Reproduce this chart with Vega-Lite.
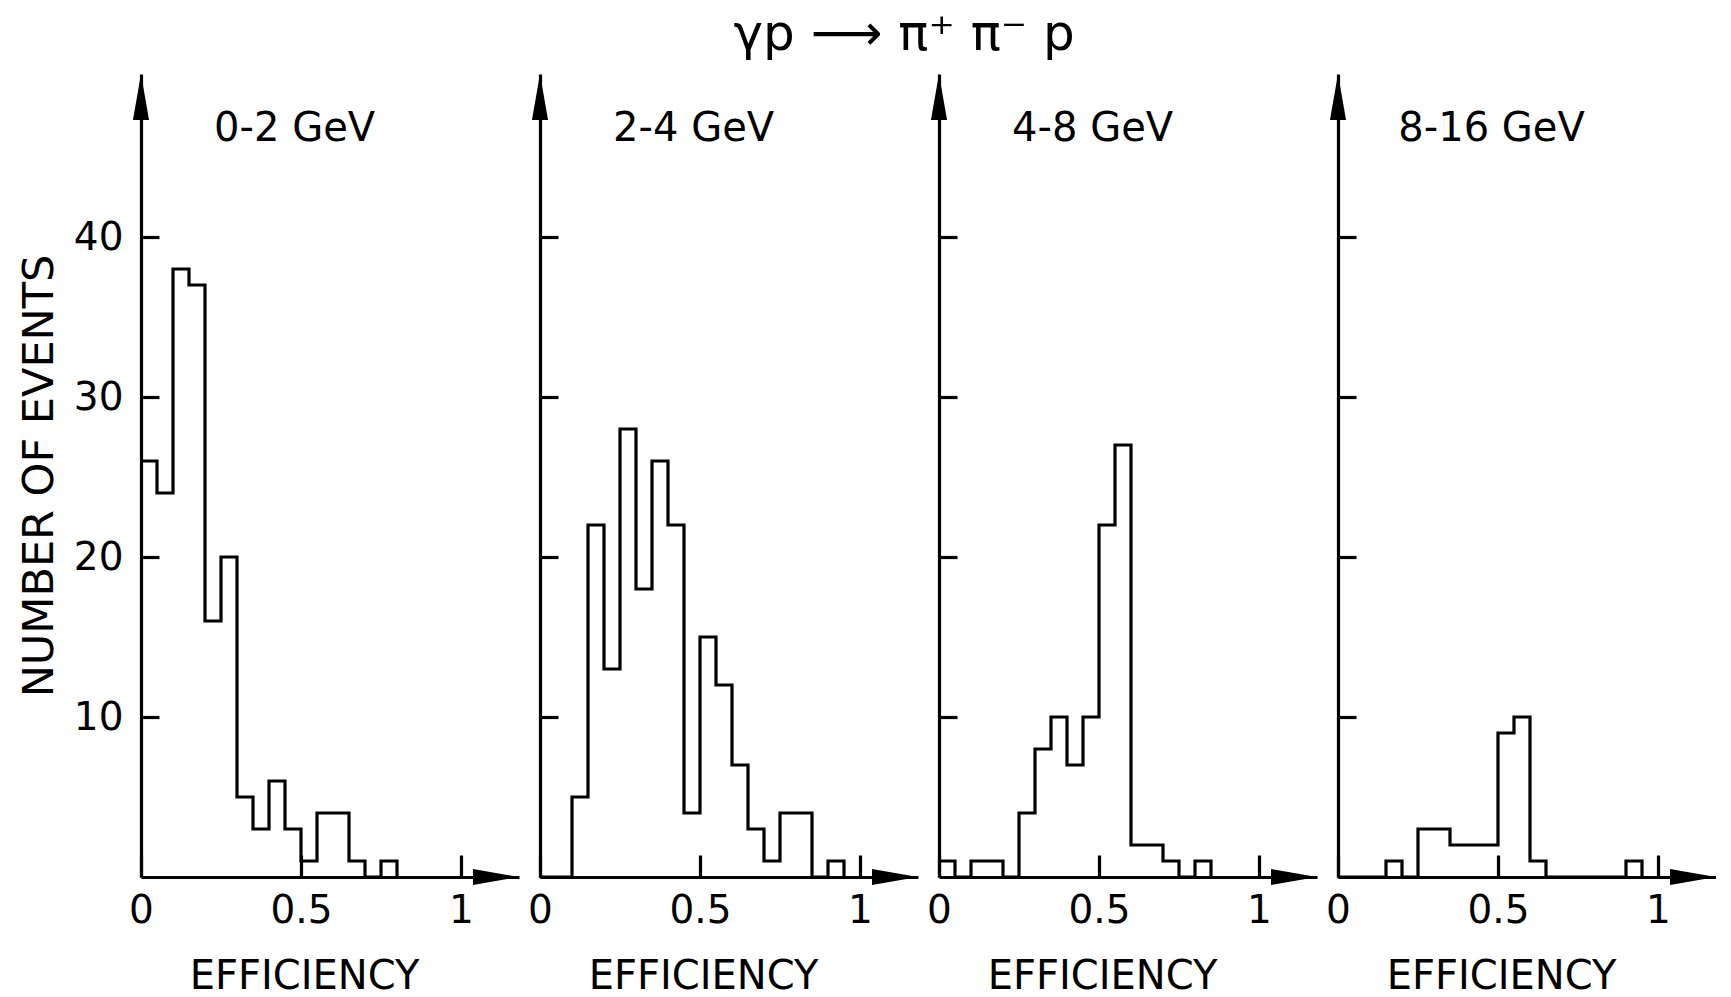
{
  "$schema": "https://vega.github.io/schema/vega-lite/v6.json",
  "padding": {"left": 18, "top": 10, "right": 0, "bottom": 0},
  "background": "white",
  "datasets": {
    "hist": [
      {"panel": "0-2 GeV", "eff": 0.00, "n": 26},
      {"panel": "0-2 GeV", "eff": 0.05, "n": 24},
      {"panel": "0-2 GeV", "eff": 0.10, "n": 38},
      {"panel": "0-2 GeV", "eff": 0.15, "n": 37},
      {"panel": "0-2 GeV", "eff": 0.20, "n": 16},
      {"panel": "0-2 GeV", "eff": 0.25, "n": 20},
      {"panel": "0-2 GeV", "eff": 0.30, "n": 5},
      {"panel": "0-2 GeV", "eff": 0.35, "n": 3},
      {"panel": "0-2 GeV", "eff": 0.40, "n": 6},
      {"panel": "0-2 GeV", "eff": 0.45, "n": 3},
      {"panel": "0-2 GeV", "eff": 0.50, "n": 1},
      {"panel": "0-2 GeV", "eff": 0.55, "n": 4},
      {"panel": "0-2 GeV", "eff": 0.60, "n": 4},
      {"panel": "0-2 GeV", "eff": 0.65, "n": 1},
      {"panel": "0-2 GeV", "eff": 0.70, "n": 0},
      {"panel": "0-2 GeV", "eff": 0.75, "n": 1},
      {"panel": "0-2 GeV", "eff": 0.80, "n": 0},

      {"panel": "2-4 GeV", "eff": 0.00, "n": 0},
      {"panel": "2-4 GeV", "eff": 0.05, "n": 0},
      {"panel": "2-4 GeV", "eff": 0.10, "n": 5},
      {"panel": "2-4 GeV", "eff": 0.15, "n": 22},
      {"panel": "2-4 GeV", "eff": 0.20, "n": 13},
      {"panel": "2-4 GeV", "eff": 0.25, "n": 28},
      {"panel": "2-4 GeV", "eff": 0.30, "n": 18},
      {"panel": "2-4 GeV", "eff": 0.35, "n": 26},
      {"panel": "2-4 GeV", "eff": 0.40, "n": 22},
      {"panel": "2-4 GeV", "eff": 0.45, "n": 4},
      {"panel": "2-4 GeV", "eff": 0.50, "n": 15},
      {"panel": "2-4 GeV", "eff": 0.55, "n": 12},
      {"panel": "2-4 GeV", "eff": 0.60, "n": 7},
      {"panel": "2-4 GeV", "eff": 0.65, "n": 3},
      {"panel": "2-4 GeV", "eff": 0.70, "n": 1},
      {"panel": "2-4 GeV", "eff": 0.75, "n": 4},
      {"panel": "2-4 GeV", "eff": 0.80, "n": 4},
      {"panel": "2-4 GeV", "eff": 0.85, "n": 0},
      {"panel": "2-4 GeV", "eff": 0.90, "n": 1},
      {"panel": "2-4 GeV", "eff": 0.95, "n": 0},

      {"panel": "4-8 GeV", "eff": 0.00, "n": 1},
      {"panel": "4-8 GeV", "eff": 0.05, "n": 0},
      {"panel": "4-8 GeV", "eff": 0.10, "n": 1},
      {"panel": "4-8 GeV", "eff": 0.15, "n": 1},
      {"panel": "4-8 GeV", "eff": 0.20, "n": 0},
      {"panel": "4-8 GeV", "eff": 0.25, "n": 4},
      {"panel": "4-8 GeV", "eff": 0.30, "n": 8},
      {"panel": "4-8 GeV", "eff": 0.35, "n": 10},
      {"panel": "4-8 GeV", "eff": 0.40, "n": 7},
      {"panel": "4-8 GeV", "eff": 0.45, "n": 10},
      {"panel": "4-8 GeV", "eff": 0.50, "n": 22},
      {"panel": "4-8 GeV", "eff": 0.55, "n": 27},
      {"panel": "4-8 GeV", "eff": 0.60, "n": 2},
      {"panel": "4-8 GeV", "eff": 0.65, "n": 2},
      {"panel": "4-8 GeV", "eff": 0.70, "n": 1},
      {"panel": "4-8 GeV", "eff": 0.75, "n": 0},
      {"panel": "4-8 GeV", "eff": 0.80, "n": 1},
      {"panel": "4-8 GeV", "eff": 0.85, "n": 0},

      {"panel": "8-16 GeV", "eff": 0.00, "n": 0},
      {"panel": "8-16 GeV", "eff": 0.05, "n": 0},
      {"panel": "8-16 GeV", "eff": 0.10, "n": 0},
      {"panel": "8-16 GeV", "eff": 0.15, "n": 1},
      {"panel": "8-16 GeV", "eff": 0.20, "n": 0},
      {"panel": "8-16 GeV", "eff": 0.25, "n": 3},
      {"panel": "8-16 GeV", "eff": 0.30, "n": 3},
      {"panel": "8-16 GeV", "eff": 0.35, "n": 2},
      {"panel": "8-16 GeV", "eff": 0.40, "n": 2},
      {"panel": "8-16 GeV", "eff": 0.45, "n": 2},
      {"panel": "8-16 GeV", "eff": 0.50, "n": 9},
      {"panel": "8-16 GeV", "eff": 0.55, "n": 10},
      {"panel": "8-16 GeV", "eff": 0.60, "n": 1},
      {"panel": "8-16 GeV", "eff": 0.65, "n": 0},
      {"panel": "8-16 GeV", "eff": 0.70, "n": 0},
      {"panel": "8-16 GeV", "eff": 0.75, "n": 0},
      {"panel": "8-16 GeV", "eff": 0.80, "n": 0},
      {"panel": "8-16 GeV", "eff": 0.85, "n": 0},
      {"panel": "8-16 GeV", "eff": 0.90, "n": 1},
      {"panel": "8-16 GeV", "eff": 0.95, "n": 0}
    ],
    "labels": [
      {"panel": "0-2 GeV"},
      {"panel": "2-4 GeV"},
      {"panel": "4-8 GeV"},
      {"panel": "8-16 GeV"}
    ]
  },
  "title": {
    "text": "γp ⟶ π⁺ π⁻ p",
    "fontSize": 50,
    "font": "DejaVu Sans",
    "fontWeight": "normal",
    "color": "black",
    "anchor": "middle",
    "dx": 37,
    "offset": 14
  },
  "spacing": 21,
  "bounds": "flush",
  "hconcat": [
    {
      "width": 378, "height": 803,
      "layer": [
        {
          "data": {"name": "hist"},
          "transform": [{"filter": "datum.panel === '0-2 GeV'"}],
          "mark": {"type": "line", "interpolate": "step-after", "color": "black", "strokeWidth": 3.2, "strokeJoin": "miter"},
          "encoding": {
            "x": {"field": "eff", "type": "quantitative", "scale": {"domain": [0, 1.18125], "nice": false, "zero": false},
                  "axis": {"title": "EFFICIENCY", "titleX": 163, "values": [0, 0.5, 1], "format": "~g", "tickSize": -22, "labelPadding": 36, "titlePadding": 26, "labelFlush": false, "labelOverlap": false}},
            "y": {"field": "n", "type": "quantitative", "scale": {"domain": [0, 50.1875], "nice": false},
                  "axis": {"title": "NUMBER OF EVENTS", "values": [10, 20, 30, 40], "tickSize": -18, "labelPadding": 36, "titlePadding": 12, "titleFontSize": 43}}
          }
        },
        {
          "data": {"name": "labels"},
          "transform": [{"filter": "datum.panel === '0-2 GeV'"}],
          "mark": {"type": "point", "shape": "M0,0 L0.35,2 L-0.35,2 Z", "size": 2116, "filled": true, "color": "black", "opacity": 1},
          "encoding": {"x": {"datum": 0, "type": "quantitative"}, "y": {"datum": 50.1875, "type": "quantitative"}}
        },
        {
          "data": {"name": "labels"},
          "transform": [{"filter": "datum.panel === '0-2 GeV'"}],
          "mark": {"type": "point", "shape": "M0,0 L-2,-0.35 L-2,0.35 Z", "size": 2116, "filled": true, "color": "black", "opacity": 1},
          "encoding": {"x": {"datum": 1.18125, "type": "quantitative"}, "y": {"datum": 0, "type": "quantitative"}}
        },
        {
          "data": {"name": "labels"},
          "transform": [{"filter": "datum.panel === '0-2 GeV'"}],
          "mark": {"type": "text", "fontSize": 40, "font": "DejaVu Sans", "color": "black", "align": "center", "baseline": "middle"},
          "encoding": {"x": {"datum": 0.48, "type": "quantitative"}, "y": {"datum": 46.75, "type": "quantitative"}, "text": {"field": "panel"}}
        }
      ]
    },
    {
      "width": 378, "height": 803,
      "layer": [
        {
          "data": {"name": "hist"},
          "transform": [{"filter": "datum.panel === '2-4 GeV'"}],
          "mark": {"type": "line", "interpolate": "step-after", "color": "black", "strokeWidth": 3.2, "strokeJoin": "miter"},
          "encoding": {
            "x": {"field": "eff", "type": "quantitative", "scale": {"domain": [0, 1.18125], "nice": false, "zero": false},
                  "axis": {"title": "EFFICIENCY", "titleX": 163, "values": [0, 0.5, 1], "format": "~g", "tickSize": -22, "labelPadding": 36, "titlePadding": 26, "labelFlush": false, "labelOverlap": false}},
            "y": {"field": "n", "type": "quantitative", "scale": {"domain": [0, 50.1875], "nice": false},
                  "axis": {"title": null, "values": [10, 20, 30, 40], "tickSize": -18, "labels": false}}
          }
        },
        {
          "data": {"name": "labels"},
          "transform": [{"filter": "datum.panel === '2-4 GeV'"}],
          "mark": {"type": "point", "shape": "M0,0 L0.35,2 L-0.35,2 Z", "size": 2116, "filled": true, "color": "black", "opacity": 1},
          "encoding": {"x": {"datum": 0, "type": "quantitative"}, "y": {"datum": 50.1875, "type": "quantitative"}}
        },
        {
          "data": {"name": "labels"},
          "transform": [{"filter": "datum.panel === '2-4 GeV'"}],
          "mark": {"type": "point", "shape": "M0,0 L-2,-0.35 L-2,0.35 Z", "size": 2116, "filled": true, "color": "black", "opacity": 1},
          "encoding": {"x": {"datum": 1.18125, "type": "quantitative"}, "y": {"datum": 0, "type": "quantitative"}}
        },
        {
          "data": {"name": "labels"},
          "transform": [{"filter": "datum.panel === '2-4 GeV'"}],
          "mark": {"type": "text", "fontSize": 40, "font": "DejaVu Sans", "color": "black", "align": "center", "baseline": "middle"},
          "encoding": {"x": {"datum": 0.48, "type": "quantitative"}, "y": {"datum": 46.75, "type": "quantitative"}, "text": {"field": "panel"}}
        }
      ]
    },
    {
      "width": 378, "height": 803,
      "layer": [
        {
          "data": {"name": "hist"},
          "transform": [{"filter": "datum.panel === '4-8 GeV'"}],
          "mark": {"type": "line", "interpolate": "step-after", "color": "black", "strokeWidth": 3.2, "strokeJoin": "miter"},
          "encoding": {
            "x": {"field": "eff", "type": "quantitative", "scale": {"domain": [0, 1.18125], "nice": false, "zero": false},
                  "axis": {"title": "EFFICIENCY", "titleX": 163, "values": [0, 0.5, 1], "format": "~g", "tickSize": -22, "labelPadding": 36, "titlePadding": 26, "labelFlush": false, "labelOverlap": false}},
            "y": {"field": "n", "type": "quantitative", "scale": {"domain": [0, 50.1875], "nice": false},
                  "axis": {"title": null, "values": [10, 20, 30, 40], "tickSize": -18, "labels": false}}
          }
        },
        {
          "data": {"name": "labels"},
          "transform": [{"filter": "datum.panel === '4-8 GeV'"}],
          "mark": {"type": "point", "shape": "M0,0 L0.35,2 L-0.35,2 Z", "size": 2116, "filled": true, "color": "black", "opacity": 1},
          "encoding": {"x": {"datum": 0, "type": "quantitative"}, "y": {"datum": 50.1875, "type": "quantitative"}}
        },
        {
          "data": {"name": "labels"},
          "transform": [{"filter": "datum.panel === '4-8 GeV'"}],
          "mark": {"type": "point", "shape": "M0,0 L-2,-0.35 L-2,0.35 Z", "size": 2116, "filled": true, "color": "black", "opacity": 1},
          "encoding": {"x": {"datum": 1.18125, "type": "quantitative"}, "y": {"datum": 0, "type": "quantitative"}}
        },
        {
          "data": {"name": "labels"},
          "transform": [{"filter": "datum.panel === '4-8 GeV'"}],
          "mark": {"type": "text", "fontSize": 40, "font": "DejaVu Sans", "color": "black", "align": "center", "baseline": "middle"},
          "encoding": {"x": {"datum": 0.48, "type": "quantitative"}, "y": {"datum": 46.75, "type": "quantitative"}, "text": {"field": "panel"}}
        }
      ]
    },
    {
      "width": 378, "height": 803,
      "layer": [
        {
          "data": {"name": "hist"},
          "transform": [{"filter": "datum.panel === '8-16 GeV'"}],
          "mark": {"type": "line", "interpolate": "step-after", "color": "black", "strokeWidth": 3.2, "strokeJoin": "miter"},
          "encoding": {
            "x": {"field": "eff", "type": "quantitative", "scale": {"domain": [0, 1.18125], "nice": false, "zero": false},
                  "axis": {"title": "EFFICIENCY", "titleX": 163, "values": [0, 0.5, 1], "format": "~g", "tickSize": -22, "labelPadding": 36, "titlePadding": 26, "labelFlush": false, "labelOverlap": false}},
            "y": {"field": "n", "type": "quantitative", "scale": {"domain": [0, 50.1875], "nice": false},
                  "axis": {"title": null, "values": [10, 20, 30, 40], "tickSize": -18, "labels": false}}
          }
        },
        {
          "data": {"name": "labels"},
          "transform": [{"filter": "datum.panel === '8-16 GeV'"}],
          "mark": {"type": "point", "shape": "M0,0 L0.35,2 L-0.35,2 Z", "size": 2116, "filled": true, "color": "black", "opacity": 1},
          "encoding": {"x": {"datum": 0, "type": "quantitative"}, "y": {"datum": 50.1875, "type": "quantitative"}}
        },
        {
          "data": {"name": "labels"},
          "transform": [{"filter": "datum.panel === '8-16 GeV'"}],
          "mark": {"type": "point", "shape": "M0,0 L-2,-0.35 L-2,0.35 Z", "size": 2116, "filled": true, "color": "black", "opacity": 1},
          "encoding": {"x": {"datum": 1.18125, "type": "quantitative"}, "y": {"datum": 0, "type": "quantitative"}}
        },
        {
          "data": {"name": "labels"},
          "transform": [{"filter": "datum.panel === '8-16 GeV'"}],
          "mark": {"type": "text", "fontSize": 40, "font": "DejaVu Sans", "color": "black", "align": "center", "baseline": "middle"},
          "encoding": {"x": {"datum": 0.48, "type": "quantitative"}, "y": {"datum": 46.75, "type": "quantitative"}, "text": {"field": "panel"}}
        }
      ]
    }
  ],
  "config": {
    "view": {"stroke": null},
    "font": "DejaVu Sans",
    "axis": {
      "grid": false,
      "domainColor": "black",
      "domainWidth": 3.2,
      "tickColor": "black",
      "tickWidth": 3.2,
      "labelColor": "black",
      "titleColor": "black",
      "labelFont": "DejaVu Sans",
      "titleFont": "DejaVu Sans",
      "labelFontSize": 39,
      "titleFontSize": 40,
      "titleFontWeight": "normal"
    }
  }
}
